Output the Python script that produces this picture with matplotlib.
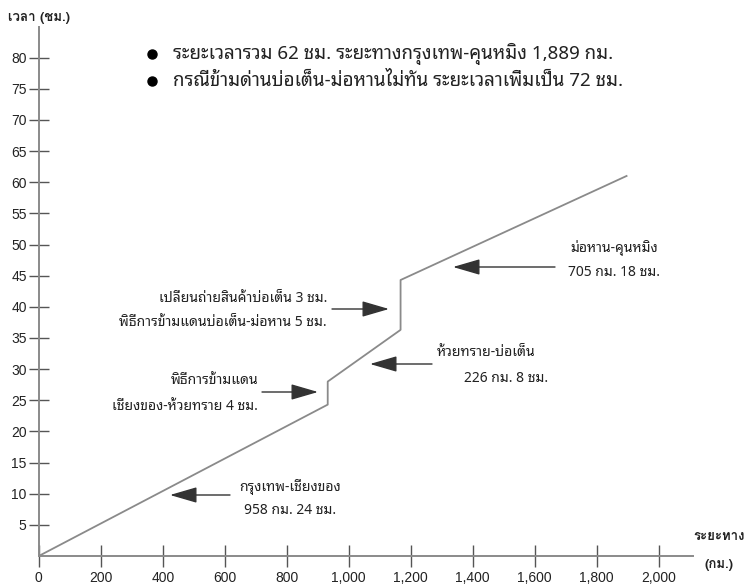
import matplotlib
matplotlib.use("Agg")
import matplotlib.pyplot as plt
from matplotlib.ticker import FuncFormatter

# ---------------------------------------------------------
# ข้อมูล: ระยะทางสะสม (กม.) และเวลาสะสม (ชม.)
# ---------------------------------------------------------
km = [0, 932, 932, 1167, 1167, 1896]
hours = [0, 24.3, 28.0, 36.3, 44.3, 61.0]

x_ticks = [0, 200, 400, 600, 800, 1000, 1200, 1400, 1600, 1800, 2000]
y_ticks = [5, 10, 15, 20, 25, 30, 35, 40, 45, 50, 55, 60, 65, 70, 75, 80]

bullets = [
    "ระยะเวลารวม 62 ชม. ระยะทางกรุงเทพ-คุนหมิง 1,889 กม.",
    "กรณีข้ามด่านบ่อเต็น-ม่อหานไม่ทัน ระยะเวลาเพิ่มเป็น 72 ชม.",
]

THAI = ['Noto Sans Thai Looped', 'Noto Sans', 'DejaVu Sans']
THAI_BOLD = ['Loma', 'Noto Sans Thai Looped', 'DejaVu Sans']
GREY = '#8a8a8a'

fig = plt.figure(figsize=(7.52, 5.84), dpi=100)
ax = fig.add_axes([38.8 / 752, 28 / 584, (693 - 38.8) / 752, (556 - 27) / 584])
ax.set_xlim(0, (693 - 38.8) / 0.31)
ax.set_ylim(0, (556 - 27) / 6.23)

# เส้นเวลา-ระยะทาง
ax.plot(km, hours, color=GREY, lw=1.3)

# แกน
for s in ['top', 'right']:
    ax.spines[s].set_visible(False)
for s in ['left', 'bottom']:
    ax.spines[s].set_color(GREY)
    ax.spines[s].set_linewidth(1.4)

ax.set_xticks(x_ticks)
ax.set_yticks(y_ticks)
ax.xaxis.set_major_formatter(FuncFormatter(lambda v, p: f"{int(v):,}"))
ax.tick_params(axis='both', direction='inout', width=1,
               color='#555555', labelsize=10, labelcolor='#222222')
ax.tick_params(axis='x', length=16, pad=3)
ax.tick_params(axis='y', length=14.5, pad=1.5)
for lab in ax.get_xticklabels() + ax.get_yticklabels():
    lab.set_family(['Liberation Sans', 'DejaVu Sans'])


# แปลงพิกัดพิกเซลของภาพเป็นพิกัดข้อมูล
def px(x, y):
    return (x - 38.8) / 0.31, (556 - y) / 6.23


def label(x, y, s, ha='left', size=10, weight='normal', family=THAI):
    ax.text(*px(x, y), s, ha=ha, va='center', fontsize=size, family=family,
            color='#222222', fontweight=weight, clip_on=False)


def arrow(x0, y0, x1, y1):
    ax.annotate('', xy=px(x1, y1), xytext=px(x0, y0), annotation_clip=False,
                arrowprops=dict(arrowstyle='-|>,head_length=1.2,head_width=0.35',
                                color='#333333', lw=1, mutation_scale=14,
                                shrinkA=0, shrinkB=0))


# ชื่อแกน
label(8, 18, "เวลา (ชม.)", size=9.5, weight='bold', family=THAI_BOLD)
label(693, 537, "ระยะทาง", size=9.5, weight='bold', family=THAI_BOLD)
label(705, 565, "(กม.)", size=9.5, weight='bold', family=THAI_BOLD)

# หัวข้อย่อย
for i, s in enumerate(bullets):
    yy = 54 + i * 27
    ax.plot(*px(152, yy), 'o', color='black', ms=6.5, clip_on=False)
    label(173, yy, s, size=13.5)

# คำอธิบายช่วงทาง
label(614, 248, "ม่อหาน-คุนหมิง", ha='center')
label(614, 272, "705 กม. 18 ชม.", ha='center')
arrow(555, 267, 453, 267)

label(486, 353, "ห้วยทราย-บ่อเต็น", ha='center')
label(506, 379, "226 กม. 8 ชม.", ha='center')
arrow(432, 364, 370, 364)

label(327, 299, "เปลี่ยนถ่ายสินค้าบ่อเต็น 3 ชม.", ha='right')
label(327, 323, "พิธีการข้ามแดนบ่อเต็น-ม่อหาน 5 ชม.", ha='right')
arrow(332, 309, 389, 309)

label(258, 381, "พิธีการข้ามแดน", ha='right')
label(258, 407, "เชียงของ-ห้วยทราย 4 ชม.", ha='right')
arrow(262, 392, 318, 392)

label(290, 487, "กรุงเทพ-เชียงของ", ha='center')
label(290, 511, "958 กม. 24 ชม.", ha='center')
arrow(230, 495, 170, 495)

fig.savefig("out.png", dpi=100)
